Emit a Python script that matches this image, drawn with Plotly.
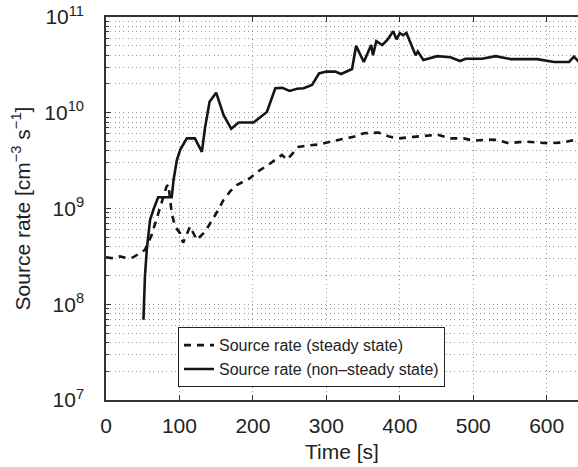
import plotly.graph_objects as go

# Steady state source rate
t_steady = [0, 10, 19, 28, 37, 46, 53, 62, 69, 76, 82.5, 85, 87, 89.5, 94, 101, 105,
            114.5, 123.5, 135, 148.5, 160, 169, 178, 196, 205.5, 223.5, 239.5, 246.5,
            262, 276, 292, 305.5, 321.5, 337, 351, 371, 387, 398.5, 419, 451, 469, 487,
            501, 519, 533, 548.5, 569, 587, 603, 623.5, 637, 644]
r_steady = [3.09e8, 3.02e8, 3.16e8, 3.05e8, 3.09e8, 3.39e8, 3.7e8, 5.25e8, 7.9e8, 1.17e9,
            1.7e9, 1.78e9, 1.32e9, 8.9e8, 6.5e8, 5.5e8, 4.4e8, 6.5e8, 4.7e8, 5.75e8, 8.5e8,
            1.23e9, 1.51e9, 1.76e9, 2.07e9, 2.4e9, 2.95e9, 3.63e9, 3.24e9, 4.4e9, 4.57e9,
            4.68e9, 5.0e9, 5.25e9, 5.6e9, 6.1e9, 6.2e9, 5.6e9, 5.4e9, 5.6e9, 5.9e9, 5.4e9,
            5.4e9, 5.1e9, 5.25e9, 5.2e9, 4.8e9, 5.0e9, 4.9e9, 4.8e9, 4.9e9, 5.2e9, 4.8e9]

# Non-steady state source rate
t_nonsteady = [51, 53, 55.5, 60, 64.5, 71, 83, 89.5, 92, 96.5, 101, 110, 121, 130.5, 135,
               141, 150, 160, 170.5, 180.5, 201, 219, 230.5, 240, 250, 260, 269, 280.5,
               290, 300, 312, 320, 335, 340.5, 351, 361, 363.5, 368, 376, 383, 391, 395.5,
               400, 404.5, 409, 417, 421.5, 424.5, 432, 451, 469, 482, 489.5, 512, 530.5,
               551, 587, 610, 630.5, 637, 644]
r_nonsteady = [6.9e7, 1.95e8, 3.7e8, 7.6e8, 9.7e8, 1.31e9, 1.31e9, 1.31e9, 2.0e9, 3.2e9,
               4.1e9, 5.4e9, 5.4e9, 3.9e9, 7.1e9, 1.3e10, 1.62e10, 9.5e9, 6.8e9, 7.9e9,
               7.9e9, 1.02e10, 1.8e10, 1.82e10, 1.69e10, 1.78e10, 1.8e10, 1.95e10, 2.57e10,
               2.69e10, 2.69e10, 2.54e10, 2.86e10, 5.0e10, 3.39e10, 5.1e10, 3.98e10, 5.6e10,
               5.1e10, 5.75e10, 7.1e10, 5.85e10, 6.8e10, 6.45e10, 6.8e10, 4.9e10, 3.98e10,
               4.37e10, 3.55e10, 3.9e10, 3.8e10, 3.47e10, 3.67e10, 3.67e10, 3.9e10, 3.63e10,
               3.63e10, 3.39e10, 3.39e10, 3.85e10, 3.39e10]

x_ticks = [0, 100, 200, 300, 400, 500, 600]
decades = [7, 8, 9, 10, 11]

y_major = [10 ** d for d in decades]
y_major_text = [f"10<sup>{d}</sup>" for d in decades]
y_minor = [m * 10 ** d for d in decades[:-1] for m in range(2, 10)]

FONT = "Liberation Sans, Arial, sans-serif"
GRID = "#999999"
DOT = "1px,3.3px"

fig = go.Figure()
fig.add_trace(go.Scatter(
    x=t_steady, y=r_steady, mode="lines", name="Source rate (steady state)",
    line=dict(color="#151515", width=2.6, dash="7px,6px"),
))
fig.add_trace(go.Scatter(
    x=t_nonsteady, y=r_nonsteady, mode="lines", name="Source rate (non\u2013steady state)",
    line=dict(color="#151515", width=2.6),
))

fig.update_layout(
    width=578, height=467,
    margin=dict(l=106, r=0, t=17, b=67),
    paper_bgcolor="white", plot_bgcolor="white",
    font=dict(family=FONT, color="#222", size=21),
    showlegend=True,
    legend=dict(
        x=0.1525, y=0.19, xanchor="left", yanchor="top",
        bgcolor="white", bordercolor="#222", borderwidth=1,
        font=dict(size=16, family=FONT, color="#222"),
        tracegroupgap=0, itemwidth=30,
    ),
    xaxis=dict(
        range=[0, 642.6], tickvals=x_ticks, ticktext=[str(v) for v in x_ticks],
        showgrid=True, gridcolor=GRID, griddash=DOT, gridwidth=1,
        showline=True, linecolor="#333", linewidth=1.5, mirror="ticks",
        ticks="inside", ticklen=5, tickcolor="#333", tickwidth=1,
        zeroline=False, ticklabelstandoff=6,
        title=dict(text="Time [s]", font=dict(size=21), standoff=8),
    ),
    yaxis=dict(
        type="log", range=[7, 11], tickvals=y_major, ticktext=y_major_text,
        showgrid=True, gridcolor=GRID, griddash=DOT, gridwidth=1,
        showline=True, linecolor="#333", linewidth=1.5, mirror=False,
        ticks="inside", ticklen=5, tickcolor="#333", tickwidth=1,
        zeroline=False, ticklabelstandoff=16,
        minor=dict(tickvals=y_minor, ticks="inside", ticklen=3, tickcolor="#333",
                   showgrid=True, gridcolor=GRID, griddash=DOT, gridwidth=1),
        title=dict(text="Source rate [cm<sup>\u22123</sup> s<sup>\u22121</sup>]",
                   font=dict(size=21), standoff=8),
    ),
)

fig.write_html("out.html")
